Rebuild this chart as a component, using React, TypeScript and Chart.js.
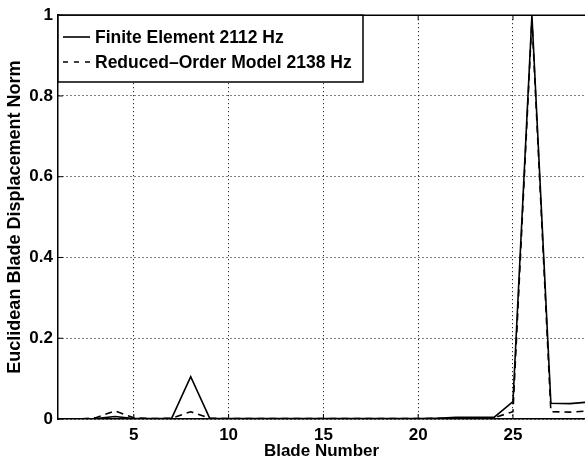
import { useEffect, useRef } from "react";
import { Chart, registerables } from "chart.js";

Chart.register(...registerables);

// ---- data ----
const blades = [1, 2, 3, 4, 5, 6, 7, 8, 9, 10, 11, 12, 13, 14, 15, 16, 17, 18, 19, 20, 21, 22, 23, 24, 25, 26, 27, 28, 29];
const feValues = [0, 0, 0.001, 0.006, 0.001, 0.001, 0.002, 0.105, 0.002, 0.001, 0.001, 0.001, 0.001, 0.001, 0.001, 0.001, 0.001, 0.001, 0.001, 0.001, 0.002, 0.004, 0.004, 0.004, 0.043, 1.0, 0.039, 0.038, 0.042];
const romValues = [0, 0, 0.003, 0.02, 0.003, 0.001, 0.002, 0.018, 0.002, 0.001, 0.001, 0.001, 0.001, 0.001, 0.001, 0.001, 0.001, 0.001, 0.001, 0.001, 0.002, 0.002, 0.002, 0.003, 0.018, 0.99, 0.018, 0.017, 0.02];
const seriesLabels = ["Finite Element 2112 Hz", "Reduced\u2013Order Model 2138 Hz"];
const xTicks = [5, 10, 15, 20, 25];
const yTicks = [0, 0.2, 0.4, 0.6, 0.8, 1];
const yTickLabels = ["0", "0.2", "0.4", "0.6", "0.8", "1"];
const xTitle = "Blade Number";
const yTitle = "Euclidean Blade Displacement Norm";

const FAMILY = "'Liberation Sans', Arial, Helvetica, sans-serif";

export default function App() {
  const ref = useRef<HTMLCanvasElement>(null);

  useEffect(() => {
    document.body.style.margin = "0";
    const canvas = ref.current;
    if (!canvas) return;

    const font = { family: FAMILY, size: 17, weight: "bold" as const };

    const framePlugin = {
      id: "frame",
      afterDatasetsDraw(chart: any) {
        const { ctx, chartArea } = chart;
        const xs = chart.scales.x;
        const ys = chart.scales.y;
        ctx.save();
        ctx.strokeStyle = "#000";
        ctx.lineWidth = 1.5;
        ctx.setLineDash([]);
        ctx.beginPath();
        ctx.moveTo(chartArea.left, chartArea.top);
        ctx.lineTo(chartArea.right, chartArea.top);
        ctx.stroke();
        ctx.lineWidth = 1;
        ctx.beginPath();
        xTicks.forEach((v) => {
          const px = xs.getPixelForValue(v);
          ctx.moveTo(px, chartArea.bottom);
          ctx.lineTo(px, chartArea.bottom - 5);
          ctx.moveTo(px, chartArea.top);
          ctx.lineTo(px, chartArea.top + 5);
        });
        yTicks.forEach((v) => {
          const py = ys.getPixelForValue(v);
          ctx.moveTo(chartArea.left, py);
          ctx.lineTo(chartArea.left + 5, py);
        });
        ctx.stroke();
        ctx.restore();
      },
    };

    const legendPlugin = {
      id: "legendBox",
      afterDraw(chart: any) {
        const { ctx, chartArea } = chart;
        const left = chartArea.left;
        const top = chartArea.top;
        const right = 363;
        const bottom = 82;
        ctx.save();
        ctx.fillStyle = "#fff";
        ctx.fillRect(left, top, right - left, bottom - top);
        ctx.strokeStyle = "#000";
        ctx.lineWidth = 1.5;
        ctx.setLineDash([]);
        ctx.strokeRect(left, top, right - left, bottom - top);
        const rows = [37, 62];
        const dashes = [[], [5, 6]];
        ctx.font = `bold 17.5px ${FAMILY}`;
        ctx.textBaseline = "middle";
        ctx.textAlign = "left";
        ctx.fillStyle = "#000";
        rows.forEach((y, i) => {
          ctx.lineWidth = 1.6;
          ctx.setLineDash(dashes[i]);
          ctx.beginPath();
          ctx.moveTo(63, y);
          ctx.lineTo(90, y);
          ctx.stroke();
          ctx.setLineDash([]);
          ctx.fillText(seriesLabels[i], 95, y + 1);
        });
        ctx.restore();
      },
    };

    const chart = new Chart(canvas, {
      type: "line",
      data: {
        datasets: [
          {
            label: seriesLabels[0],
            data: blades.map((b, i) => ({ x: b, y: feValues[i] })),
            borderColor: "#000",
            borderWidth: 1.6,
            pointRadius: 0,
            tension: 0,
            fill: false,
          },
          {
            label: seriesLabels[1],
            data: blades.map((b, i) => ({ x: b, y: romValues[i] })),
            borderColor: "#000",
            borderWidth: 1.6,
            borderDash: [7, 5],
            pointRadius: 0,
            tension: 0,
            fill: false,
          },
        ],
      },
      options: {
        responsive: false,
        animation: false,
        layout: { padding: { top: 15, right: 0, left: 0, bottom: 0 } },
        plugins: { legend: { display: false }, tooltip: { enabled: false } },
        scales: {
          x: {
            type: "linear",
            min: 1,
            max: 28.8,
            afterBuildTicks: (s: any) => {
              s.ticks = xTicks.map((v) => ({ value: v }));
            },
            afterFit: (s: any) => {
              s.height = 44;
            },
            grid: { color: "#000", lineWidth: 1, drawTicks: false },
            border: { color: "#000", width: 1.5, dash: [1, 3] },
            ticks: { color: "#000", font, padding: 6, maxRotation: 0, autoSkip: false },
            title: { display: true, text: xTitle, color: "#000", font, padding: { top: 0, bottom: 1 } },
          },
          y: {
            type: "linear",
            min: 0,
            max: 1,
            afterBuildTicks: (s: any) => {
              s.ticks = yTicks.map((v) => ({ value: v }));
            },
            afterFit: (s: any) => {
              s.width = 58;
            },
            grid: { color: "#000", lineWidth: 1, drawTicks: false },
            border: { color: "#000", width: 1.5, dash: [1, 3] },
            ticks: {
              color: "#000",
              font,
              padding: 5,
              autoSkip: false,
              callback: (v: any) => {
                const i = yTicks.findIndex((t) => Math.abs(t - v) < 1e-9);
                return i >= 0 ? yTickLabels[i] : "";
              },
            },
            title: { display: true, text: yTitle, color: "#000", font: { family: FAMILY, size: 18, weight: "bold" as const }, padding: { top: 4, bottom: 0 } },
          },
        },
      },
      plugins: [framePlugin, legendPlugin],
    });

    return () => chart.destroy();
  }, []);

  return (
    <div style={{ width: 585, height: 463 }}>
      <canvas ref={ref} width={585} height={463} style={{ display: "block" }} />
    </div>
  );
}
